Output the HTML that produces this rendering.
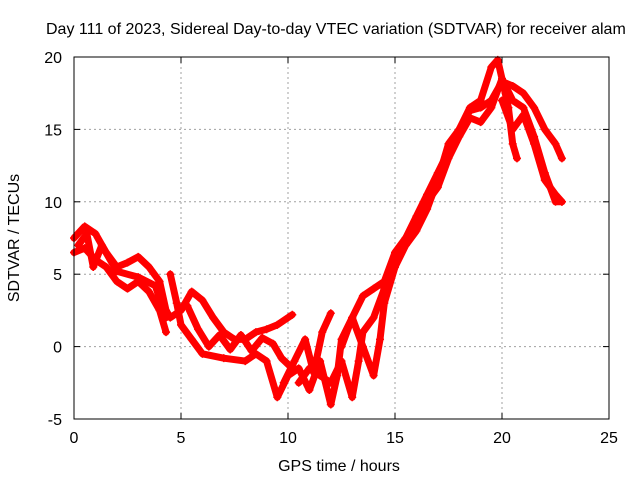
<!DOCTYPE html>
<html><head><meta charset="utf-8"><style>
body{margin:0;background:#fff}
text{font-family:"Liberation Sans",sans-serif;font-size:16px;fill:#000}
</style></head><body>
<svg id="c" width="640" height="480">
<text x="46" y="34">Day 111 of 2023, Sidereal Day-to-day VTEC variation (SDTVAR) for receiver alam</text>
<text x="339" y="471" text-anchor="middle">GPS time / hours</text>
<text transform="translate(19,238) rotate(-90)" text-anchor="middle">SDTVAR / TECUs</text>
<g id="grid"></g><g id="marks"></g><g id="axes"></g>
</svg>
<script>
const xTicks=[0,5,10,15,20,25];
const yTicks=[-5,0,5,10,15,20];
const trackA=[[0,7.5],[0.5,8.3],[1,7.8],[1.5,6.5],[2,5.5],[2.5,5.8],[3,6.2],[3.5,5.5],[4,4.5],[4.3,2.5],[4.5,2],[5,2.5],[5.5,3.8],[6,3.2],[6.5,2],[7,1],[7.5,0.5],[8,0.5],[8.5,1],[9,1.2],[9.5,1.5],[10,2],[10.2,2.2]];
const trackB=[[0,6.5],[0.5,6.8],[1,6],[1.5,5.5],[2,4.5],[2.5,4],[3,4.5],[3.5,3.8],[4,2.5],[4.3,1]];
const trackC=[[4.5,5],[4.8,3],[5,1.5],[5.5,0.5],[6,-0.5],[7,-0.8],[8,-1],[8.5,-0.5],[9,-1],[9.5,-3.5],[10,-2],[10.5,-1.5],[11,-3],[11.5,-1],[12,-4],[12.3,-2],[12.5,0.5],[13,2],[13.5,3.5],[14,4],[14.5,4.5],[15,6.5],[15.5,7.5],[16,8.5],[16.5,10],[17,11],[17.5,13],[18,14.5],[18.5,15.8],[19,15.5],[19.5,16.5],[20,18.5],[20.5,17],[21,16.5],[21.5,14.5],[22,12],[22.5,10],[22.8,10]];
const trackD=[[10.5,-2.5],[11,-1.5],[11.5,-2],[12,-2.5],[12.5,-1],[13,-3.5],[13.3,-1],[13.5,1],[14,2],[14.5,4],[15,5.5],[15.5,7],[16,8],[16.5,9.5],[17,11.5],[17.5,14],[18,15],[18.5,16.5],[19,17],[19.5,19.3],[19.8,19.8],[20,18.5],[20.3,16.5],[20.5,14],[20.7,13]];
const trackE=[[12.5,0],[13,2],[13.5,0],[14,-2],[14.3,0.5],[14.5,3],[15,5.5],[15.5,7.5],[16,9],[16.5,10.5],[17,12],[17.5,13.5],[18,15],[18.5,16.3],[19,16.5],[19.5,17],[20,18.3],[20.5,18],[21,17.5],[21.5,16.5],[22,15],[22.5,14],[22.8,13]];
const trackF=[[20,17],[20.5,15],[21,16],[21.5,14],[22,11.5],[22.5,10.5],[22.8,10]];
const trackG=[[0.2,7],[0.6,7.8],[0.9,5.5],[1.3,7],[2,5.2],[3,4.8],[3.8,4.2],[4.3,2]];
const trackH=[[5.3,2.8],[5.8,1.2],[6.3,0],[6.8,0.8],[7.3,-0.2],[7.8,0.8],[8.3,-0.3],[8.8,0.6],[9.3,0.2],[9.7,-0.8],[10.2,-1.5]];
const trackI=[[9.8,-2.5],[10.3,-1],[10.8,0.5],[11.2,-1.8],[11.6,1],[12,2.3]];
const tracks=[trackA,trackB,trackC,trackD,trackE,trackF,trackG,trackH,trackI];
const L=74,R=609,T=57,B=419,xmin=0,xmax=25,ymin=-5,ymax=20;
const sx=v=>L+(v-xmin)/(xmax-xmin)*(R-L);
const sy=v=>B-(v-ymin)/(ymax-ymin)*(B-T);
const NS='http://www.w3.org/2000/svg';
function mk(t,a,p){const e=document.createElementNS(NS,t);for(const k in a)e.setAttribute(k,a[k]);p.appendChild(e);return e;}
const g=document.getElementById('grid'),m=document.getElementById('marks'),ax=document.getElementById('axes');
xTicks.forEach(v=>{const x=sx(v);
 if(v>xmin&&v<xmax){const l=mk('line',{x1:x,x2:x,y1:T,y2:B,stroke:'#a0a0a0','stroke-dasharray':'2,3'},g);}
 mk('line',{x1:x,x2:x,y1:B,y2:B-6,stroke:'#000'},ax);mk('line',{x1:x,x2:x,y1:T,y2:T+6,stroke:'#000'},ax);
 const t=mk('text',{x:x,y:B+24,'text-anchor':'middle'},ax);t.textContent=v;
 });
yTicks.forEach(v=>{const y=sy(v);
 if(v>ymin&&v<ymax){const l=mk('line',{x1:L,x2:R,y1:y,y2:y,stroke:'#a0a0a0','stroke-dasharray':'2,3'},g);}
 mk('line',{x1:L,x2:L+6,y1:y,y2:y,stroke:'#000'},ax);mk('line',{x1:R,x2:R-6,y1:y,y2:y,stroke:'#000'},ax);
 const t=mk('text',{x:L-12,y:y+6,'text-anchor':'end'},ax);t.textContent=v;
 });
const fr=mk('rect',{x:L,y:T,width:R-L,height:B-T,fill:'none',stroke:'#000'},ax);

tracks.forEach(tr=>{
 const pl=mk('polyline',{points:tr.map(p=>sx(p[0])+','+sy(p[1])).join(' '),fill:'none',stroke:'#ff0000','stroke-width':7,'stroke-linejoin':'round','stroke-linecap':'round'},m);
 
 tr.forEach(p=>{const x=sx(p[0]),y=sy(p[1]);
  const c=mk('path',{d:`M${x-4},${y}h8M${x},${y-4}v8`,stroke:'#ff0000','stroke-width':1.5},m);
  });
});
</script>
</body></html>
